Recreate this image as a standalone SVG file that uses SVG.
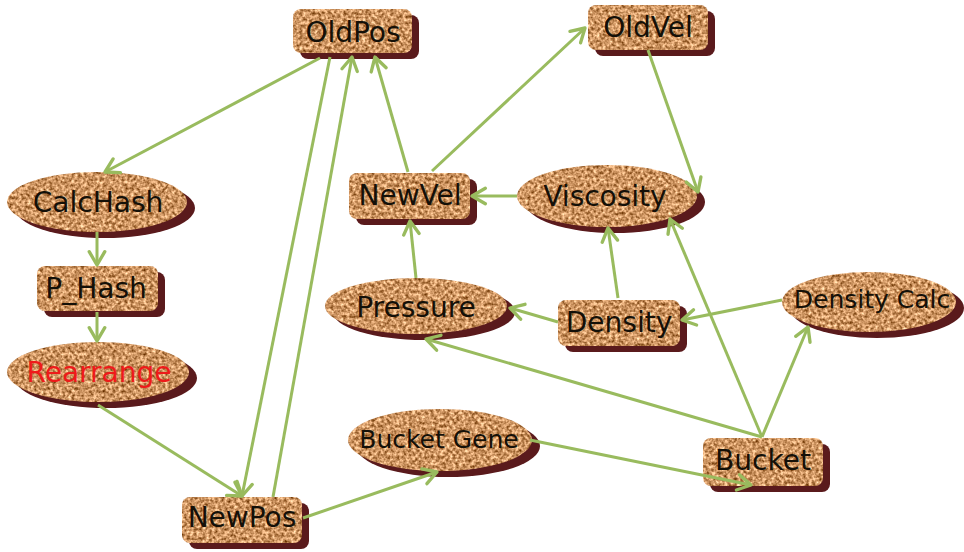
<svg xmlns="http://www.w3.org/2000/svg" width="964" height="552" viewBox="0 0 964 552">
  <defs>
    <!-- cork texture: fractal noise tinted brown, clipped to the shape -->
    <filter id="cork" x="0" y="0" width="1" height="1" color-interpolation-filters="sRGB">
      <feTurbulence type="fractalNoise" baseFrequency="0.32" numOctaves="2" seed="7" result="noise"/>
      <feColorMatrix in="noise" type="matrix" values="1.05 0 0 0 0.28  1.05 0 0 0 0.06  1.05 0 0 0 -0.14  0 0 0 0 1" result="tone"/>
      <feComposite in="tone" in2="SourceAlpha" operator="in"/>
    </filter>
    <marker id="arrow" markerUnits="userSpaceOnUse" markerWidth="20" markerHeight="20" viewBox="-14 -9 16 18" refX="0" refY="0" orient="auto">
      <path d="M-12,-7 L0,0 L-12,7" fill="none" stroke="#99bb5e" stroke-width="3" stroke-linecap="round" stroke-linejoin="round"/>
    </marker>
    <style>
      .face { fill: #c98f5e; filter: url(#cork); }
      .shadow { fill: #5a1a1c; }
      .lbl { font-family: "DejaVu Sans", Verdana, sans-serif; font-size: 28px; fill: #141008; text-anchor: middle; }
      .sm { font-size: 25px; }
      .red { fill: #ee1a1a; }
      .edge { fill: none; stroke: #99bb5e; stroke-width: 3; marker-end: url(#arrow); }
    </style>
  </defs>

  <rect width="964" height="552" fill="#ffffff"/>

  <!-- rectangular nodes -->
  <g id="OldPos">
    <rect class="shadow" x="300" y="15" width="119" height="44" rx="8"/>
    <rect class="face" x="293" y="9" width="119" height="44" rx="8"/>
    <text class="lbl" x="353" y="42">OldPos</text>
  </g>
  <g id="OldVel">
    <rect class="shadow" x="595" y="11" width="120" height="45" rx="8"/>
    <rect class="face" x="588" y="5" width="120" height="45" rx="8"/>
    <text class="lbl" x="648" y="37">OldVel</text>
  </g>
  <g id="P_Hash">
    <rect class="shadow" x="44" y="272" width="121" height="45" rx="8"/>
    <rect class="face" x="37" y="266" width="121" height="45" rx="8"/>
    <text class="lbl" x="96" y="298">P_Hash</text>
  </g>
  <g id="NewVel">
    <rect class="shadow" x="356" y="179" width="121" height="46" rx="8"/>
    <rect class="face" x="349" y="173" width="121" height="46" rx="8"/>
    <text class="lbl" x="410" y="205">NewVel</text>
  </g>
  <g id="Density">
    <rect class="shadow" x="565" y="306" width="122" height="46" rx="8"/>
    <rect class="face" x="558" y="300" width="122" height="46" rx="8"/>
    <text class="lbl" x="619" y="332">Density</text>
  </g>
  <g id="Bucket">
    <rect class="shadow" x="710" y="444" width="120" height="48" rx="8"/>
    <rect class="face" x="703" y="438" width="120" height="48" rx="8"/>
    <text class="lbl" x="763" y="470">Bucket</text>
  </g>
  <g id="NewPos">
    <rect class="shadow" x="189" y="503" width="120" height="46" rx="8"/>
    <rect class="face" x="182" y="497" width="120" height="46" rx="8"/>
    <text class="lbl" x="242" y="527">NewPos</text>
  </g>

  <!-- elliptical nodes -->
  <g id="CalcHash">
    <ellipse class="shadow" cx="105" cy="208" rx="90" ry="30"/>
    <ellipse class="face" cx="97" cy="202" rx="90" ry="30"/>
    <text class="lbl" x="98" y="212">CalcHash</text>
  </g>
  <g id="Rearrange">
    <ellipse class="shadow" cx="106" cy="378" rx="91" ry="30"/>
    <ellipse class="face" cx="98" cy="372" rx="91" ry="30"/>
    <text class="lbl red" x="99" y="382">Rearrange</text>
  </g>
  <g id="Viscosity">
    <ellipse class="shadow" cx="615" cy="202" rx="90" ry="31"/>
    <ellipse class="face" cx="607" cy="196" rx="90" ry="31"/>
    <text class="lbl" x="605" y="206">Viscosity</text>
  </g>
  <g id="Pressure">
    <ellipse class="shadow" cx="424" cy="312" rx="91" ry="28"/>
    <ellipse class="face" cx="416" cy="306" rx="91" ry="28"/>
    <text class="lbl" x="416" y="317">Pressure</text>
  </g>
  <g id="DensityCalc">
    <ellipse class="shadow" cx="877" cy="308" rx="87" ry="30"/>
    <ellipse class="face" cx="869" cy="302" rx="87" ry="30"/>
    <text class="lbl sm" x="872" y="308">Density Calc</text>
  </g>
  <g id="BucketGene">
    <ellipse class="shadow" cx="448" cy="446" rx="92" ry="31"/>
    <ellipse class="face" cx="440" cy="440" rx="92" ry="31"/>
    <text class="lbl sm" x="439" y="448">Bucket Gene</text>
  </g>

  <!-- connectors -->
  <g id="edges">
    <line class="edge" x1="320" y1="58" x2="105" y2="172"/>
    <line class="edge" x1="97" y1="232" x2="97" y2="265"/>
    <line class="edge" x1="97" y1="312" x2="97" y2="341"/>
    <line class="edge" x1="98" y1="405" x2="242" y2="496"/>
    <line class="edge" x1="330" y1="57" x2="242" y2="496"/>
    <line class="edge" x1="273" y1="497" x2="352" y2="57"/>
    <line class="edge" x1="408" y1="172" x2="375" y2="57"/>
    <line class="edge" x1="432" y1="171" x2="585" y2="28"/>
    <line class="edge" x1="648" y1="50" x2="698" y2="192"/>
    <line class="edge" x1="517" y1="196" x2="472" y2="196"/>
    <line class="edge" x1="416" y1="278" x2="410" y2="221"/>
    <line class="edge" x1="558" y1="322" x2="510" y2="308"/>
    <line class="edge" x1="618" y1="298" x2="608" y2="228"/>
    <line class="edge" x1="782" y1="300" x2="682" y2="320"/>
    <line class="edge" x1="762" y1="437" x2="426" y2="339"/>
    <line class="edge" x1="762" y1="437" x2="670" y2="219"/>
    <line class="edge" x1="762" y1="437" x2="808" y2="327"/>
    <line class="edge" x1="530" y1="440" x2="751" y2="485"/>
    <line class="edge" x1="303" y1="518" x2="437" y2="472"/>
  </g>
</svg>
